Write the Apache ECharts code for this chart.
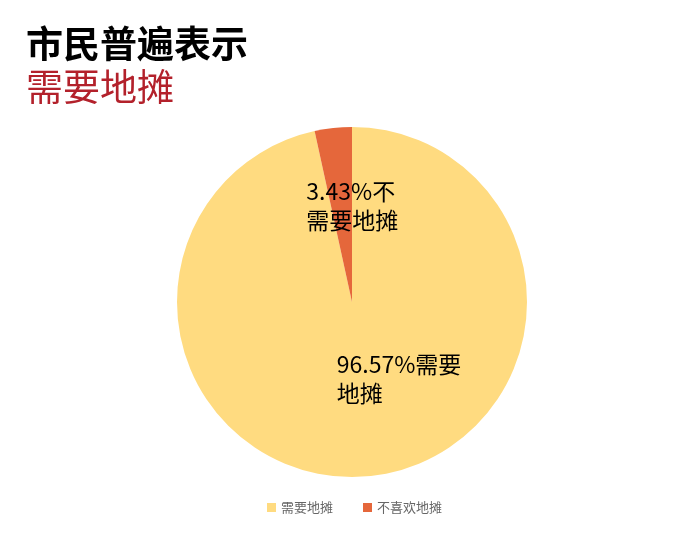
<!DOCTYPE html>
<html>
<head>
<meta charset="utf-8">
<script src="https://cdn.jsdelivr.net/npm/echarts@6/dist/echarts.min.js"></script>
<style>
  html, body { margin: 0; padding: 0; background: #fff; }
  #main { width: 685px; height: 543px; }
</style>
</head>
<body>
<div id="main"></div>
<script>
// 图例名称与占比
var names = ['需要地摊', '不喜欢地摊'];
var values = [96.57, 3.43];
// 扇区内标签文字（已换行）
var labelTexts = ['96.57%需要\n地摊', '3.43%不\n需要地摊'];
var colors = ['#FFDB80', '#E5673B'];
// 标签相对扇区中点的偏移
var labelShift = [[-25, -13], [-36, -6]];

var myChart = echarts.init(document.getElementById('main'));

var data = names.map(function (n, i) {
    return {
        name: n,
        value: values[i],
        itemStyle: { color: colors[i] },
        label: { formatter: labelTexts[i] }
    };
});

var option = {
    animation: false,
    title: [{
        text: '市民普遍表示',
        left: 21,
        top: 20,
        textStyle: { fontSize: 37, fontWeight: 'bold', color: '#000', fontFamily: 'Noto Sans CJK SC' }
    }, {
        text: '需要地摊',
        left: 21,
        top: 63,
        textStyle: { fontSize: 37, fontWeight: 'normal', color: '#B3212B', fontFamily: 'Noto Sans CJK SC' }
    }],
    legend: {
        bottom: 24,
        left: 262,
        itemWidth: 9,
        itemHeight: 9,
        itemGap: 30,
        icon: 'rect',
        textStyle: { fontSize: 13, color: '#666', fontFamily: 'Noto Sans CJK SC' },
        data: names
    },
    series: [{
        type: 'pie',
        center: [352, 302],
        radius: 175,
        startAngle: 90,
        clockwise: true,
        label: {
            position: 'inside',
            fontSize: 23,
            lineHeight: 29,
            color: '#000',
            fontFamily: 'Noto Sans CJK SC'
        },
        labelLayout: function (p) {
            var s = labelShift[p.dataIndex];
            return { dx: s[0], dy: s[1], align: 'left' };
        },
        labelLine: { show: false },
        emphasis: { disabled: true },
        data: data
    }]
};

myChart.setOption(option);
</script>
</body>
</html>
